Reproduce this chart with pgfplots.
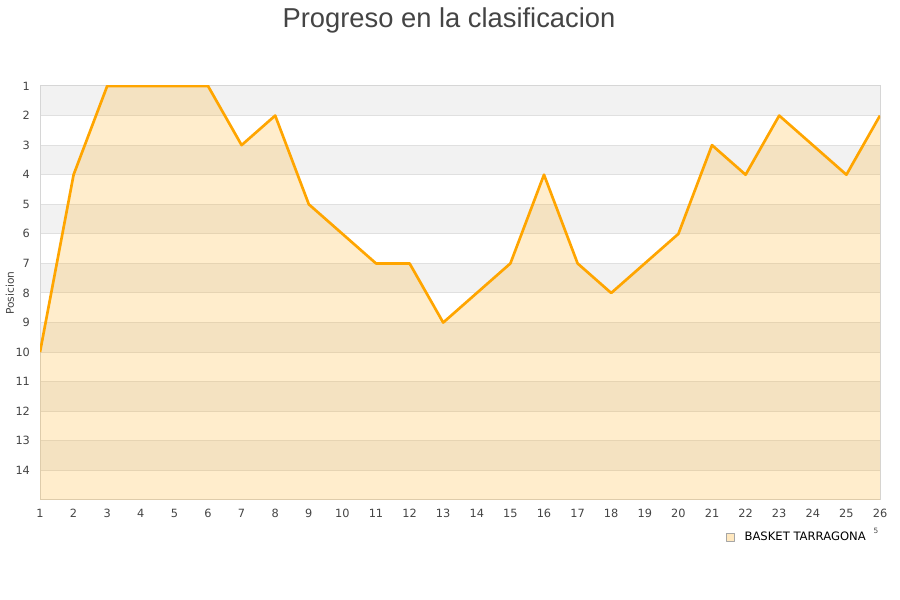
\documentclass[border=0pt]{standalone}
\usepackage{fontspec}
\setmainfont{Liberation Sans}
\newfontfamily\dejavu{DejaVu Sans}
\usepackage{pgfplots}
\usepackage{pgfplotstable}
\usepgfplotslibrary{fillbetween}
\pgfplotsset{compat=1.18}

\definecolor{lineorange}{HTML}{FFA500}
\definecolor{bandgray}{HTML}{F2F2F2}
\definecolor{gridgray}{HTML}{E0E0E0}
\definecolor{boxgray}{HTML}{D6D6D6}
\definecolor{ticktext}{HTML}{444444}
\definecolor{titletext}{HTML}{444444}

% jornada, posicion
\pgfplotstableread{
x y
1 10
2 4
3 1
4 1
5 1
6 1
7 3
8 2
9 5
10 6
11 7
12 7
13 9
14 8
15 7
16 4
17 7
18 8
19 7
20 6
21 3
22 4
23 2
24 3
25 4
26 2
}\posdata

\begin{document}
\begin{tikzpicture}
\node[anchor=base, font=\fontsize{20.5}{24}\selectfont, text=titletext]
  at (336.75pt,429.5pt) {Progreso en la clasificacion};
\begin{axis}[
    set layers,
    at={(30pt,75pt)}, anchor=south west,
    scale only axis,
    width=630pt, height=310.5pt,
    xmin=1, xmax=26,
    ymin=1, ymax=15,
    y dir=reverse,
    xtick={1,...,26},
    ytick={1,...,14},
    major tick length=0pt,
    ymajorgrids,
    grid style={gridgray, line width=0.75pt},
    axis line style={boxgray, line width=0.75pt},
    tick label style={font=\dejavu\fontsize{8.5}{10}\selectfont, text=ticktext},
    /pgf/number format/assume math mode=true,
    yticklabel style={xshift=-4pt},
    xticklabel style={yshift=-3.5pt},
    ylabel={Posicion},
    every axis y label/.style={at={(axis description cs:-0.0357,0.5)},
      rotate=90, anchor=center, font=\dejavu\fontsize{8}{10}\selectfont, text=ticktext},
    legend style={draw=none, fill=none, inner sep=0pt,
      at={(axis description cs:0.8166,-0.0894)}, anchor=west,
      font=\dejavu\fontsize{8.7}{10}\selectfont, text=black,
      legend cell align=left},
    legend image code/.code={
      \draw[draw=gray!70, fill=lineorange!25, line width=0.5pt]
        (0pt,-3pt) rectangle (6pt,3pt);
      \path (10.5pt,0pt);},
]
% alternating bands behind the plot (rows 1-2, 3-4, ...)
\begin{pgfonlayer}{axis background}
\pgfplotsinvokeforeach{1,3,...,13}{
  \fill[bandgray] (axis cs:1,#1) rectangle (axis cs:26,#1+1);
}
\end{pgfonlayer}
\addplot[lineorange, line width=2pt, line join=round, name path=pos]
  table[x=x, y=y] {\posdata};
\addlegendentry{BASKET TARRAGONA}
\addplot[draw=none, name path=floor, forget plot] coordinates {(1,15) (26,15)};
\addplot[fill=lineorange, fill opacity=0.2, forget plot] fill between[of=pos and floor];
\end{axis}
\node[font=\dejavu\fontsize{5.5}{6}\selectfont, text=ticktext] at (657pt,51.5pt) {5};
\path (0,0) rectangle (675pt,450pt);
\end{tikzpicture}
\end{document}
